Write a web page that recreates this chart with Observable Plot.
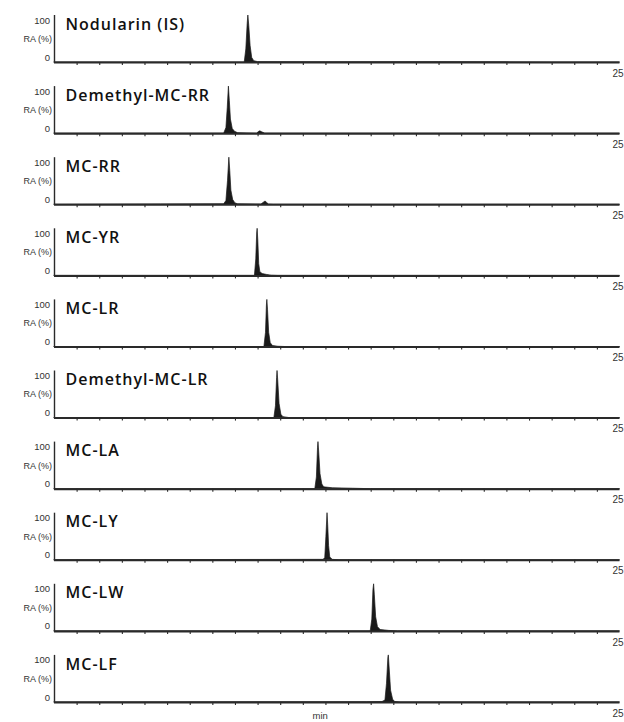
<!DOCTYPE html>
<html>
<head>
<meta charset="utf-8">
<script src="https://cdn.jsdelivr.net/npm/d3@7"></script>
<script src="https://cdn.jsdelivr.net/npm/@observablehq/plot@0.6"></script>
<style>
  html, body { margin: 0; padding: 0; background: #fff; }
  g[font-family^="Open Sans"] text { letter-spacing: 1px; }
</style>
</head>
<body>
<div id="chart"></div>
<script>
// ---- data ----
const compounds = [
  "Nodularin (IS)", "Demethyl-MC-RR", "MC-RR", "MC-YR", "MC-LR",
  "Demethyl-MC-LR", "MC-LA", "MC-LY", "MC-LW", "MC-LF"
];
const xTickValues = [1,2,3,4,5,6,7,8,9,10,11,12,13,14,15,16,17,18,19,20,21,22,23,24];
const xEndTick = [25];
const yTopLabel = ["100"];
const yMidLabel = ["RA (%)"];
const yBottomLabel = ["0"];
const xLabel = ["min"];

// chromatogram traces: [retention time (min), relative abundance (%)]
const nodularinIS = [[0,0],[8.41,0],[8.48,28],[8.54,82],[8.57,100],[8.61,78],[8.67,35],[8.74,10],[8.83,3],[9.0,1],[12,0.6],[17,1],[20,0.5],[22,0],[25,0]];
const demethylMCRR = [[0,0],[7.50,0],[7.60,12],[7.66,55],[7.71,100],[7.75,70],[7.80,30],[7.88,10],[7.98,4],[8.12,1],[8.95,0],[9.05,4],[9.10,5],[9.18,3],[9.32,0],[25,0]];
const mcRR = [[0,0],[4.7,0.8],[7.5,1],[7.60,8],[7.67,50],[7.73,100],[7.77,72],[7.82,30],[7.90,10],[8.0,3],[8.12,1],[9.15,0.5],[9.27,5],[9.33,7],[9.40,4],[9.48,0.5],[9.7,0],[25,0]];
const mcYR = [[0,0],[8.86,0],[8.92,35],[8.96,90],[8.98,100],[9.01,75],[9.05,25],[9.10,8],[9.2,4],[9.4,2],[9.6,0.5],[9.9,0],[25,0]];
const mcLR = [[0,0],[9.28,0],[9.35,30],[9.39,88],[9.41,100],[9.44,78],[9.49,30],[9.56,8],[9.66,2],[9.9,0.5],[10.2,0],[25,0]];
const demethylMCLR = [[0,0],[9.72,0],[9.79,25],[9.84,85],[9.86,100],[9.89,80],[9.95,30],[10.03,7],[10.12,2],[10.4,0],[25,0]];
const mcLA = [[0,0],[11.53,0],[11.60,25],[11.65,88],[11.67,100],[11.70,80],[11.76,32],[11.84,10],[11.92,4],[12.3,2],[13.2,1],[14,0],[25,0]];
const mcLY = [[0,0],[6.0,0.5],[11.9,1],[11.97,5],[12.02,50],[12.07,100],[12.10,75],[12.14,30],[12.19,6],[12.3,1],[12.6,0],[25,0]];
const mcLW = [[0,0],[13.98,0],[14.05,25],[14.10,88],[14.13,100],[14.16,78],[14.22,30],[14.30,9],[14.42,3],[14.8,1],[15.2,0],[25,0]];
const mcLF = [[0,0],[13.8,0.5],[14.5,1],[14.63,4],[14.70,40],[14.76,95],[14.78,100],[14.82,70],[14.88,25],[14.97,6],[15.06,1],[15.3,0],[25,0]];

const traces = [nodularinIS, demethylMCRR, mcRR, mcYR, mcLR, demethylMCLR, mcLA, mcLY, mcLW, mcLF];
const rows = traces.flatMap((tr, i) => tr.map(([t, ra]) => ({compound: compounds[i], t, ra})));

const ink = "#1a1a1a";
const axisInk = "#2a2a2a";
const lastCompound = compounds[compounds.length - 1];

const chart = Plot.plot({
  width: 624,
  height: 722,
  marginLeft: 54,
  marginRight: 4.5,
  marginTop: 15,
  marginBottom: 20,
  style: {
    fontFamily: "'Liberation Sans', Arial, sans-serif",
    fontSize: "9px",
    color: "#333",
    background: "#fff",
    overflow: "visible"
  },
  x: {domain: [0, 25], axis: null},
  y: {domain: [0, 100], axis: null},
  fy: {domain: compounds, axis: null, paddingInner: 0.3375, paddingOuter: 0, round: false},
  marks: [
    Plot.areaY(rows, {x: "t", y: "ra", fy: "compound", fill: ink, stroke: ink, strokeWidth: 0.7, curve: "linear"}),
    Plot.ruleX([0], {stroke: axisInk, strokeWidth: 1.4}),
    Plot.ruleY([0], {stroke: axisInk, strokeWidth: 2}),
    Plot.axisX({ticks: xTickValues, tickSize: 3, fill: "none", stroke: axisInk, strokeWidth: 1.1, label: null, facetAnchor: null}),
    Plot.axisX({ticks: xEndTick, tickSize: 0, tickPadding: 7, textAnchor: "end", dx: 3.5, label: null, facetAnchor: null, fill: "#333", fontSize: 10}),
    Plot.text(yTopLabel, {text: d => d, frameAnchor: "top-left", textAnchor: "end", lineAnchor: "middle", dx: -4.5, dy: 5, fontSize: 9.5, fill: "#333"}),
    Plot.text(yMidLabel, {text: d => d, frameAnchor: "left", textAnchor: "end", lineAnchor: "middle", dx: -2.5, fill: "#333"}),
    Plot.text(yBottomLabel, {text: d => d, frameAnchor: "bottom-left", textAnchor: "end", lineAnchor: "middle", dx: -4.5, dy: -5, fontSize: 9.5, fill: "#333"}),
    Plot.text(compounds, {fy: d => d, text: d => d, frameAnchor: "top-left", textAnchor: "start", lineAnchor: "middle", dx: 11, dy: 9, fontSize: 16, fontWeight: 600, fontFamily: "Open Sans", fill: "#111"}),
    Plot.text(xLabel, {fy: () => lastCompound, text: d => d, frameAnchor: "bottom", textAnchor: "middle", lineAnchor: "top", dx: -17, dy: 10, fontSize: 9.5, fill: "#333"})
  ]
});
document.getElementById("chart").appendChild(chart);
</script>
</body>
</html>
